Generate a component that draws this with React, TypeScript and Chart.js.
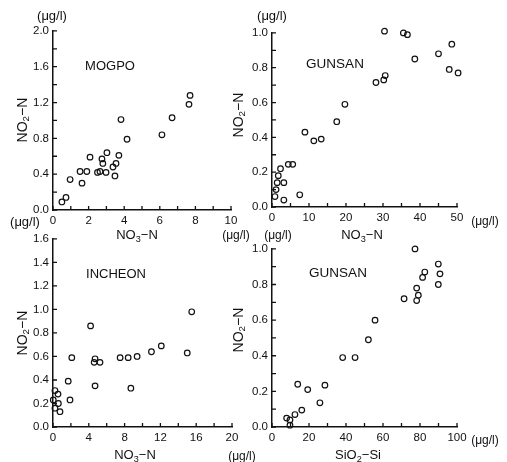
import React, { useEffect, useRef } from "react";
import { Chart, registerables } from "chart.js";
Chart.register(...registerables);

// ---- Data ----
// MOGPO: NO3-N (x) vs NO2-N (y)
const mogpoNO3 = [0.5, 0.73, 0.96, 1.63, 1.52, 1.9, 2.08, 2.75, 2.64, 2.98, 3.03, 2.8, 3.48, 3.54, 3.7, 3.82, 4.16, 6.12, 6.69, 7.7, 7.64, 2.5, 3.37];
const mogpoNO2 = [0.09, 0.14, 0.34, 0.3, 0.43, 0.43, 0.59, 0.57, 0.43, 0.42, 0.64, 0.52, 0.38, 0.52, 0.61, 1.01, 0.79, 0.84, 1.03, 1.28, 1.18, 0.42, 0.48];

// GUNSAN: NO3-N (x) vs NO2-N (y)
const gunsanNO3 = [0.8, 1.1, 1.4, 3.2, 3.2, 2.3, 4.4, 5.6, 7.5, 8.9, 11.3, 13.3, 17.5, 19.7, 28.1, 30.2, 30.6, 30.4, 35.5, 36.6, 38.6, 45.0, 47.9, 50.3, 48.6, 52.8, 52.2, 1.7];
const gunsanNO2 = [0.06, 0.1, 0.14, 0.14, 0.04, 0.22, 0.245, 0.245, 0.07, 0.43, 0.38, 0.39, 0.49, 0.59, 0.715, 0.73, 0.755, 1.01, 1.0, 0.99, 0.85, 0.88, 0.79, 0.77, 0.935, 0.945, 0.87, 0.18];

// INCHEON: NO3-N (x) vs NO2-N (y)
const incheonNO3 = [4.2, 15.5, 15.0, 12.1, 11.0, 8.4, 7.5, 9.4, 8.7, 4.7, 4.7, 4.6, 5.25, 2.1, 1.7, 1.9, 0.22, 0.03, 0.6, 0.22, 0.78, 0.56];
const incheonNO2 = [0.86, 0.98, 0.63, 0.69, 0.64, 0.59, 0.59, 0.6, 0.33, 0.35, 0.58, 0.55, 0.55, 0.59, 0.39, 0.23, 0.31, 0.23, 0.2, 0.16, 0.13, 0.28];

// GUNSAN: SiO2-Si (x) vs NO3-N (y)
const gunsanSi = [77.3, 89.9, 90.8, 89.9, 81.4, 82.6, 78.2, 79.1, 78.2, 71.4, 55.7, 52.1, 44.9, 38.2, 28.6, 19.3, 13.9, 25.9, 16.1, 12.4, 9.7, 7.9, 9.7];
const gunsanSiNO3 = [1.0, 0.915, 0.86, 0.8, 0.84, 0.87, 0.78, 0.74, 0.71, 0.72, 0.6, 0.49, 0.39, 0.39, 0.235, 0.21, 0.24, 0.136, 0.095, 0.07, 0.04, 0.05, 0.01];

// Axis ranges / tick steps: [min, max, labelStep, minorStep]
const p1X = [0, 10, 2, 1];
const p1Y = [0, 2.0, 0.4, 0.2];
const p2X = [0, 50, 10, 5];
const p2Y = [0, 1.0, 0.2, 0.1];
const p3X = [0, 20, 4, 2];
const p3Y = [0, 1.6, 0.2, 0.2];
const p4X = [0, 100, 20, 10];
const p4Y = [0, 1.0, 0.2, 0.1];

const FONT = "'Liberation Sans', Arial, sans-serif";
const INK = "#111";

const innerTicks = {
  id: "innerTicks",
  afterDraw(chart: any, _a: any, opts: any) {
    const { ctx, chartArea } = chart;
    const xs = chart.scales.x;
    const ys = chart.scales.y;
    const len = opts.len || 4;
    ctx.save();
    ctx.strokeStyle = INK;
    ctx.lineWidth = 1.3;
    ctx.beginPath();
    const nx = Math.round((xs.max - xs.min) / opts.xStep);
    for (let i = 0; i <= nx; i++) {
      const p = xs.getPixelForValue(xs.min + i * opts.xStep);
      ctx.moveTo(p, chartArea.bottom);
      ctx.lineTo(p, chartArea.bottom - len);
    }
    const ny = Math.round((ys.max - ys.min) / opts.yStep);
    for (let i = 0; i <= ny; i++) {
      const p = ys.getPixelForValue(ys.min + i * opts.yStep);
      ctx.moveTo(chartArea.left, p);
      ctx.lineTo(chartArea.left + len, p);
    }
    ctx.stroke();
    ctx.restore();
  },
};

const YW = 45;
const XH = 22;
const PT = 10;
const PR = 16;

type PanelProps = {
  left: number; top: number; w: number; h: number;
  xs: number[]; ys: number[];
  xr: number[]; yr: number[];
};

function Panel({ left, top, w, h, xs, ys, xr, yr }: PanelProps) {
  const ref = useRef<HTMLCanvasElement | null>(null);
  useEffect(() => {
    if (!ref.current) return;
    const data = xs.map((x, i) => ({ x, y: ys[i] }));
    const tickFont = { family: FONT, size: 11.5 };
    const chart = new Chart(ref.current, {
      type: "scatter",
      data: {
        datasets: [
          {
            data,
            pointStyle: "circle",
            pointRadius: 2.8,
            pointBorderWidth: 1.2,
            pointBorderColor: INK,
            pointBackgroundColor: "rgba(255,255,255,0)",
            clip: false,
          } as any,
        ],
      },
      options: {
        responsive: false,
        animation: false,
        layout: { autoPadding: false, padding: { left: 0, top: PT, right: PR, bottom: 0 } } as any,
        plugins: {
          legend: { display: false },
          tooltip: { enabled: false },
          innerTicks: { xStep: xr[3], yStep: yr[3], len: 4 },
        } as any,
        scales: {
          x: {
            type: "linear",
            min: xr[0],
            max: xr[1],
            grid: { display: false, drawTicks: false },
            border: { display: true, color: INK, width: 1.5 },
            ticks: {
              stepSize: xr[2],
              font: tickFont,
              color: INK,
              padding: 4,
              maxRotation: 0,
              autoSkip: false,
              includeBounds: false,
              callback: (v: any) => String(Math.round(Number(v))),
            },
            afterFit: (s: any) => { s.height = XH; },
          },
          y: {
            type: "linear",
            min: yr[0],
            max: yr[1],
            grid: { display: false, drawTicks: false },
            border: { display: true, color: INK, width: 1.5 },
            ticks: {
              stepSize: yr[2],
              font: tickFont,
              color: INK,
              padding: 4,
              autoSkip: false,
              includeBounds: false,
              callback: (v: any) => Number(v).toFixed(1),
            },
            afterFit: (s: any) => { s.width = YW; },
          },
        },
      } as any,
      plugins: [innerTicks as any],
    });
    return () => chart.destroy();
  }, []);
  const cw = w + YW + PR;
  const ch = h + PT + XH;
  return (
    <canvas
      ref={ref}
      width={cw}
      height={ch}
      style={{ position: "absolute", left: left - YW, top: top - PT, width: cw, height: ch }}
    />
  );
}

function T({ x, y, size = 13, rot = false, children }: any) {
  return (
    <div
      style={{
        position: "absolute",
        left: x,
        top: y,
        transform: `translate(-50%, -50%)${rot ? " rotate(-90deg)" : ""}`,
        fontFamily: FONT,
        fontSize: size,
        color: INK,
        whiteSpace: "nowrap",
        lineHeight: 1,
      }}
    >
      {children}
    </div>
  );
}

const sub = (s: string) => <sub style={{ fontSize: "0.7em", verticalAlign: "-0.25em" }}>{s}</sub>;
const NO2 = <>NO{sub("2")}−N</>;
const NO3 = <>NO{sub("3")}−N</>;
const UNIT = "(μg/l)";

export default function App() {
  return (
    <div style={{ position: "fixed", left: 0, top: 0, width: 507, height: 462, background: "#fff", overflow: "hidden" }}>
      <Panel left={53} top={30} w={178} h={180} xs={mogpoNO3} ys={mogpoNO2} xr={p1X} yr={p1Y} />
      <Panel left={272} top={32} w={185} h={175} xs={gunsanNO3} ys={gunsanNO2} xr={p2X} yr={p2Y} />
      <Panel left={53} top={238} w={179} h={189} xs={incheonNO3} ys={incheonNO2} xr={p3X} yr={p3Y} />
      <Panel left={272} top={248} w={185} h={179} xs={gunsanSi} ys={gunsanSiNO3} xr={p4X} yr={p4Y} />

      {/* top-left */}
      <T x={52} y={15} size={13}>{UNIT}</T>
      <T x={110} y={65} size={13}>MOGPO</T>
      <T x={23} y={120} size={14} rot>{NO2}</T>
      <T x={137} y={236} size={13}>{NO3}</T>
      <T x={236} y={235} size={12}>{UNIT}</T>

      {/* top-right */}
      <T x={272} y={15} size={13}>{UNIT}</T>
      <T x={335} y={64} size={13.5}>GUNSAN</T>
      <T x={239} y={115} size={14} rot>{NO2}</T>
      <T x={362} y={236} size={13}>{NO3}</T>
      <T x={485} y={221} size={12}>{UNIT}</T>

      {/* bottom-left */}
      <T x={25} y={221} size={13}>{UNIT}</T>
      <T x={116} y={273} size={13}>INCHEON</T>
      <T x={23} y={333} size={14} rot>{NO2}</T>
      <T x={135} y={456} size={13}>{NO3}</T>
      <T x={242} y={456} size={12}>{UNIT}</T>

      {/* bottom-right */}
      <T x={278} y={235} size={12}>{UNIT}</T>
      <T x={338} y={273} size={13.5}>GUNSAN</T>
      <T x={239} y={330} size={14} rot>{NO2}</T>
      <T x={485} y={440} size={12}>{UNIT}</T>
      <T x={358} y={456} size={13}>SiO{sub("2")}−Si</T>
    </div>
  );
}
